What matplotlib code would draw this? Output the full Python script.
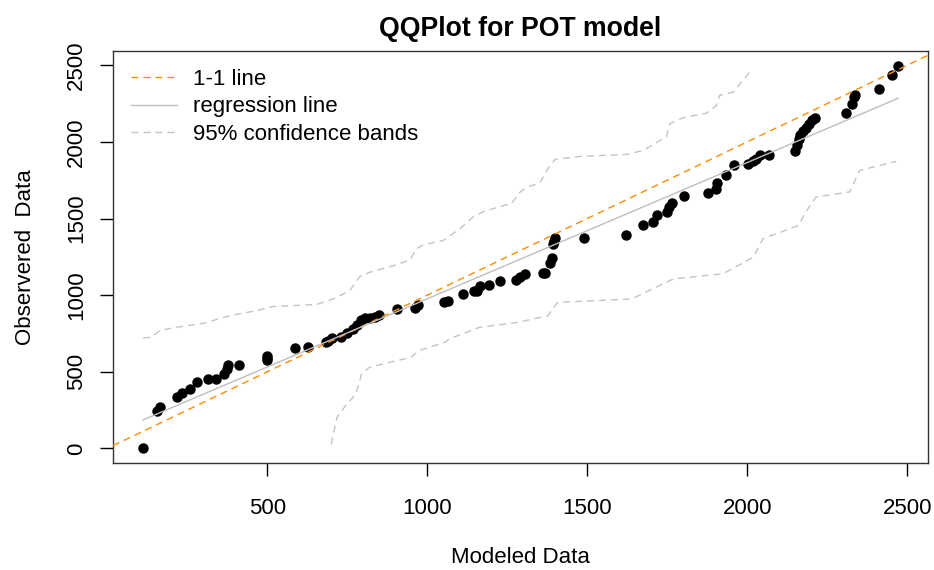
import numpy as np
import matplotlib
matplotlib.use("Agg")
import matplotlib.pyplot as plt

plt.rcParams["font.family"] = ["Liberation Sans", "DejaVu Sans"]

# quantiles of the fitted POT model vs. observed exceedances
modeled = [112, 156, 166, 218, 235, 258, 281, 315, 341, 364, 375, 377, 411,
           498, 498, 498, 586, 626, 685, 691, 701, 732, 748, 768, 781, 792,
           805, 820, 836, 850, 904, 961, 972, 1052, 1065, 1112, 1146, 1154,
           1166, 1192, 1227, 1277, 1289, 1305, 1363, 1367, 1383, 1389, 1393,
           1396, 1399, 1490, 1621, 1675, 1705, 1717, 1748, 1756, 1766, 1801,
           1877, 1902, 1907, 1933, 1960, 2003, 2018, 2029, 2039, 2068, 2149,
           2156, 2162, 2166, 2175, 2185, 2193, 2201, 2211, 2310, 2327, 2333,
           2337, 2412, 2454, 2472]
observed = [0, 245, 268, 333, 359, 386, 434, 450, 450, 486, 518, 542, 542,
            578, 591, 605, 653, 664, 692, 703, 721, 729, 751, 780, 808, 838,
            851, 851, 860, 873, 910, 917, 938, 953, 964, 1008, 1025, 1030,
            1062, 1066, 1090, 1099, 1117, 1139, 1145, 1146, 1209, 1243, 1331,
            1356, 1371, 1373, 1393, 1457, 1476, 1521, 1541, 1574, 1603, 1650,
            1669, 1694, 1733, 1786, 1851, 1859, 1873, 1890, 1913, 1917, 1941,
            1977, 2016, 2043, 2069, 2090, 2119, 2140, 2158, 2191, 2245, 2295,
            2308, 2348, 2434, 2493]

# 95% confidence bands
upper_x = [112, 138, 164, 206, 300, 383, 466, 518, 654, 706, 758, 789, 820,
           893, 946, 966, 987, 1050, 1102, 1143, 1175, 1264, 1289, 1310, 1352,
           1373, 1399, 1474, 1623, 1675, 1748, 1758, 1800, 1873, 1904, 1914,
           1956, 2008]
upper_y = [721, 725, 769, 787, 816, 866, 899, 926, 939, 975, 1030, 1121, 1149,
           1192, 1229, 1302, 1328, 1357, 1433, 1510, 1545, 1600, 1670, 1705,
           1731, 1812, 1885, 1905, 1918, 1944, 2035, 2119, 2158, 2188, 2238,
           2304, 2325, 2456]
lower_x = [700, 718, 741, 777, 795, 819, 902, 950, 973, 1056, 1068, 1163, 1282,
           1377, 1407, 1639, 1769, 1924, 2019, 2049, 2161, 2179, 2215, 2321,
           2351, 2466]
lower_y = [28, 203, 268, 355, 486, 529, 572, 594, 638, 693, 714, 790, 822, 866,
           953, 975, 1106, 1139, 1247, 1368, 1455, 1530, 1640, 1674, 1814, 1873]

x = np.array(modeled, dtype=float)
y = np.array(observed, dtype=float)
slope, intercept = np.polyfit(x, y, 1)

fig = plt.figure(figsize=(9.34, 5.70), dpi=100)
ax = fig.add_axes([113 / 934, 107 / 570, 815 / 934, 412 / 570])

ax.plot(x, y, "o", color="black", ms=6.5, zorder=2)

dash = (0, (5, 3.6))
ax.axline((0, 0), slope=1, color="#FF8C00", lw=1, linestyle=dash, zorder=3,
          label="1-1 line")
xr = np.array([x.min(), x.max()])
ax.plot(xr, intercept + slope * xr, color="#BEBEBE", lw=1, zorder=3,
        label="regression line")
ax.plot(upper_x, upper_y, color="#C4C4C4", lw=1, linestyle=dash, zorder=3,
        label="95% confidence bands")
ax.plot(lower_x, lower_y, color="#C4C4C4", lw=1, linestyle=dash, zorder=3)

ax.set_xlim(18, 2565)
ax.set_ylim(-95, 2593)
ax.set_xticks([500, 1000, 1500, 2000, 2500])
ax.set_yticks([0, 500, 1000, 1500, 2000, 2500])
ax.tick_params(direction="out", length=9.5, width=1, labelsize=16)
ax.tick_params(axis="x", pad=16)
ax.tick_params(axis="y", pad=9)
for lab in ax.get_yticklabels():
    lab.set_rotation(90)
    lab.set_va("center")
for s in ax.spines.values():
    s.set_color("#333333")
    s.set_linewidth(1)

ax.set_xlabel("Modeled Data", fontsize=16, labelpad=20)
ax.set_ylabel("Observered  Data", fontsize=16, labelpad=22)
ax.set_title("QQPlot for POT model", fontsize=19.2, fontweight="bold", pad=11)

ax.legend(loc="upper left", frameon=False, fontsize=16, handlelength=2.1,
          handletextpad=0.7, labelspacing=0.3, borderaxespad=0.25,
          borderpad=0.55)

fig.savefig("out.png", dpi=100)
